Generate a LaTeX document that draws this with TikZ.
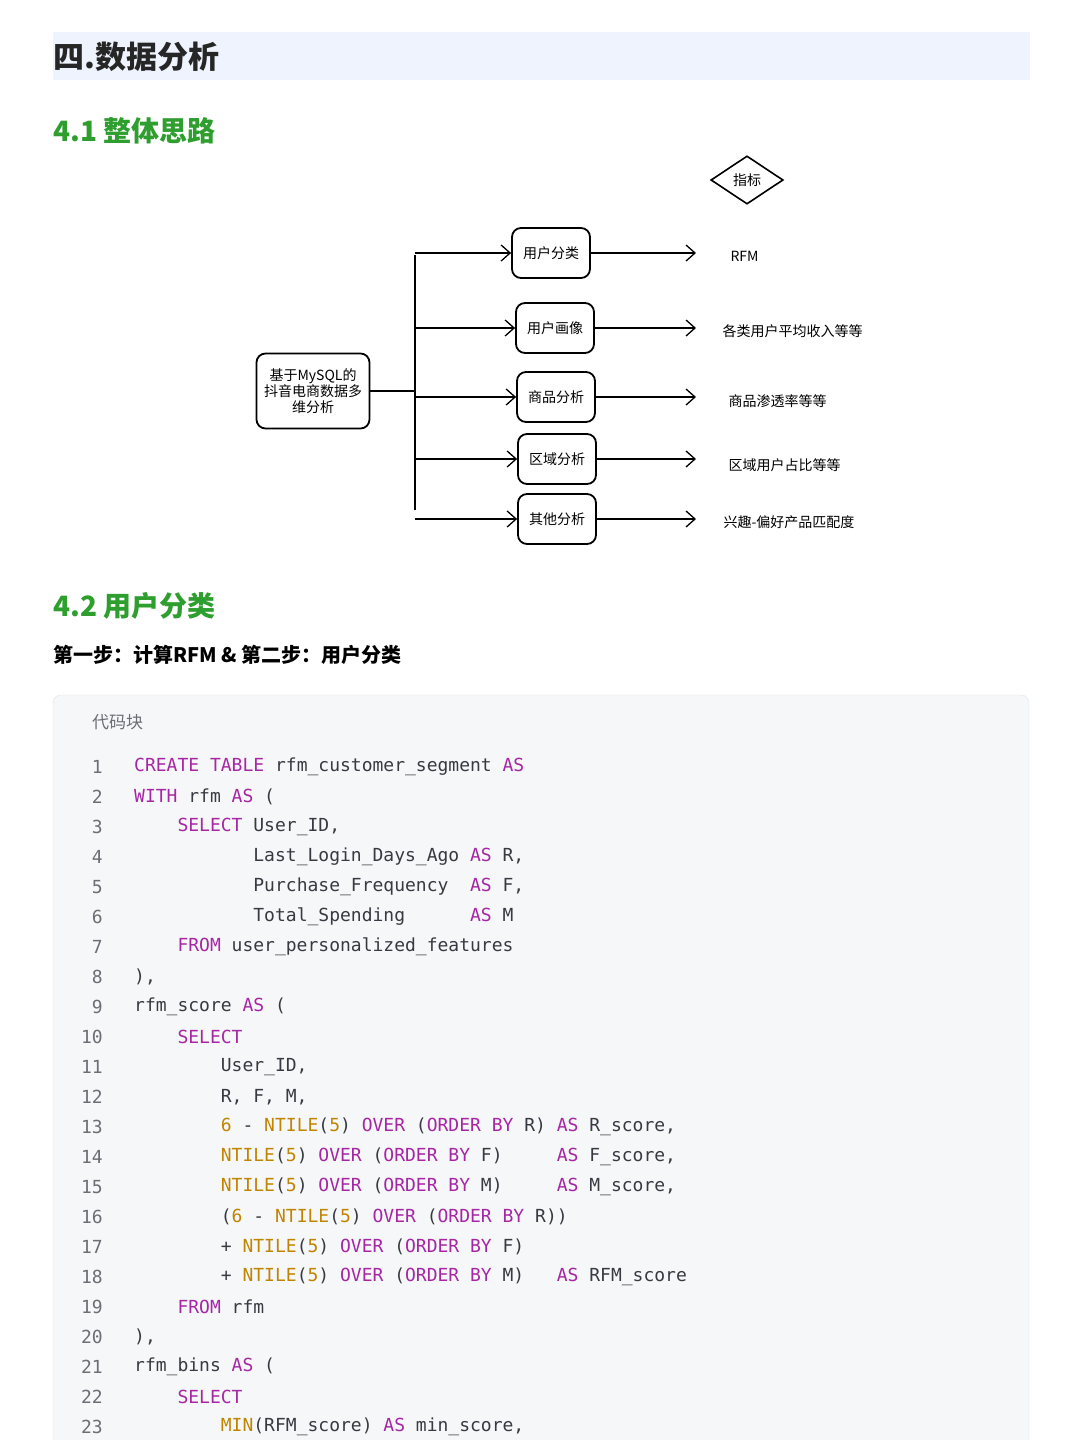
\documentclass[tikz,border=0pt]{standalone}
\usepackage{fontspec}
\setmainfont{Noto Sans CJK SC}
\newfontfamily\codefont{DejaVu Sans Mono}
\usetikzlibrary{arrows.meta,shapes.geometric,positioning}
\definecolor{headbg}{HTML}{EEF3FD}
\definecolor{headgreen}{HTML}{2E9E2E}
\definecolor{codebg}{HTML}{F6F7F9}
\definecolor{codeline}{HTML}{E2E4E8}
\definecolor{kwcol}{HTML}{A626A4}
\definecolor{fncol}{HTML}{C18401}
\definecolor{txtcol}{HTML}{383A42}
\definecolor{numcol}{HTML}{6B6E75}
\newcommand{\kw}[1]{\textcolor{kwcol}{#1}}
\newcommand{\fn}[1]{\textcolor{fncol}{#1}}
\tikzset{
  box/.style={draw,line width=1.8pt,rounded corners=9pt,minimum width=78pt,minimum height=50pt,font=\fontsize{14}{16}\selectfont,inner sep=2pt},
  tip/.style={-{Straight Barb[length=9pt,width=16pt,line width=1.3pt]},line width=1.3pt},
  goal/.style={anchor=west,font=\fontsize{14}{16}\selectfont},
  code/.style={anchor=west,text=txtcol,font=\codefont\fontsize{18}{20}\selectfont,inner sep=0pt},
  lnum/.style={anchor=east,text=numcol,font=\codefont\fontsize{18}{20}\selectfont,inner sep=0pt}
}
\begin{document}
\begin{tikzpicture}[x=1pt,y=-1pt]
\useasboundingbox (0,0) rectangle (1080,1440);
\fill[white] (0,0) rectangle (1080,1440);
% headings
\fill[headbg] (53,32) rectangle (1030,80);
\node[anchor=west,inner sep=0pt,font=\bfseries\fontsize{31}{34}\selectfont,text=black!85] (title) at (53,57) {四.数据分析};
\node[anchor=west,inner sep=0pt,text=headgreen,font=\bfseries\fontsize{28}{32}\selectfont] (sec1) at (53,131) {4.1 整体思路};
\node[anchor=west,inner sep=0pt,text=headgreen,font=\bfseries\fontsize{28}{32}\selectfont] (sec2) at (53,606) {4.2 用户分类};
\node[anchor=west,inner sep=0pt,font=\bfseries\fontsize{20}{24}\selectfont] (step) at (53,655) {第一步：计算RFM \& 第二步：用户分类};
% diagram
\node[draw,diamond,aspect=1.5,line width=1.6pt,inner sep=5pt,font=\fontsize{14}{16}\selectfont] (kpi) at (747,180) {指标};
\node[box,minimum width=113pt,minimum height=75pt,align=center] (main) at (313,391) {基于MySQL的\\抖音电商数据多\\维分析};
\node[box] (b1) at (551,253) {用户分类};
\node[box] (b2) at (555,328) {用户画像};
\node[box] (b3) at (556,397) {商品分析};
\node[box] (b4) at (557,459) {区域分析};
\node[box] (b5) at (557,519) {其他分析};
\node[goal] (g1) at (727,256) {RFM};
\node[goal] (g2) at (719,331) {各类用户平均收入等等};
\node[goal] (g3) at (725,401) {商品渗透率等等};
\node[goal] (g4) at (725,465) {区域用户占比等等};
\node[goal] (g5) at (720,522) {兴趣-偏好产品匹配度};
\coordinate (top) at (415,255);
\coordinate (bot) at (415,510);
\coordinate (stop) at (696,0);
\draw[line width=1.8pt] (top) -- (bot);
\draw[line width=1.5pt] (main.east) -- (main.east -| top);
\foreach \b in {1,...,5}{
  \draw[tip] (b\b.west -| top) -- (b\b.west);
  \draw[tip] (b\b.east) -- (b\b.east -| stop);
}
% code block
\draw[codeline,fill=codebg,rounded corners=8pt] (53,695) rectangle (1029,1470);
\node[anchor=west,inner sep=0pt,text=numcol,font=\fontsize{17}{20}\selectfont] (cap) at (92,722) {代码块};
\foreach \i in {1,...,23}
  \node[lnum] (n\i) at (103,{767+30*(\i-1)}) {\i};
\node[code] (l1) at (134,767) {\kw{CREATE} \kw{TABLE} rfm\_customer\_segment \kw{AS}};
\node[code] (l2) at (134,797) {\kw{WITH} rfm \kw{AS} (};
\node[code] (l3) at (134,827) {~~~~\kw{SELECT} User\_ID,};
\node[code] (l4) at (134,857) {~~~~~~~~~~~Last\_Login\_Days\_Ago \kw{AS} R,};
\node[code] (l5) at (134,887) {~~~~~~~~~~~Purchase\_Frequency~~\kw{AS} F,};
\node[code] (l6) at (134,917) {~~~~~~~~~~~Total\_Spending~~~~~~\kw{AS} M};
\node[code] (l7) at (134,947) {~~~~\kw{FROM} user\_personalized\_features};
\node[code] (l8) at (134,977) {),};
\node[code] (l9) at (134,1007) {rfm\_score \kw{AS} (};
\node[code] (l10) at (134,1037) {~~~~\kw{SELECT}};
\node[code] (l11) at (134,1067) {~~~~~~~~User\_ID,};
\node[code] (l12) at (134,1097) {~~~~~~~~R, F, M,};
\node[code] (l13) at (134,1127) {~~~~~~~~\fn{6} - \fn{NTILE}(\fn{5}) \kw{OVER} (\kw{ORDER} \kw{BY} R) \kw{AS} R\_score,};
\node[code] (l14) at (134,1157) {~~~~~~~~\fn{NTILE}(\fn{5}) \kw{OVER} (\kw{ORDER} \kw{BY} F)~~~~~\kw{AS} F\_score,};
\node[code] (l15) at (134,1187) {~~~~~~~~\fn{NTILE}(\fn{5}) \kw{OVER} (\kw{ORDER} \kw{BY} M)~~~~~\kw{AS} M\_score,};
\node[code] (l16) at (134,1217) {~~~~~~~~(\fn{6} - \fn{NTILE}(\fn{5}) \kw{OVER} (\kw{ORDER} \kw{BY} R))};
\node[code] (l17) at (134,1247) {~~~~~~~~+ \fn{NTILE}(\fn{5}) \kw{OVER} (\kw{ORDER} \kw{BY} F)};
\node[code] (l18) at (134,1277) {~~~~~~~~+ \fn{NTILE}(\fn{5}) \kw{OVER} (\kw{ORDER} \kw{BY} M)~~~\kw{AS} RFM\_score};
\node[code] (l19) at (134,1307) {~~~~\kw{FROM} rfm};
\node[code] (l20) at (134,1337) {),};
\node[code] (l21) at (134,1367) {rfm\_bins \kw{AS} (};
\node[code] (l22) at (134,1397) {~~~~\kw{SELECT}};
\node[code] (l23) at (134,1427) {~~~~~~~~\fn{MIN}(RFM\_score) \kw{AS} min\_score,};
\end{tikzpicture}
\end{document}
